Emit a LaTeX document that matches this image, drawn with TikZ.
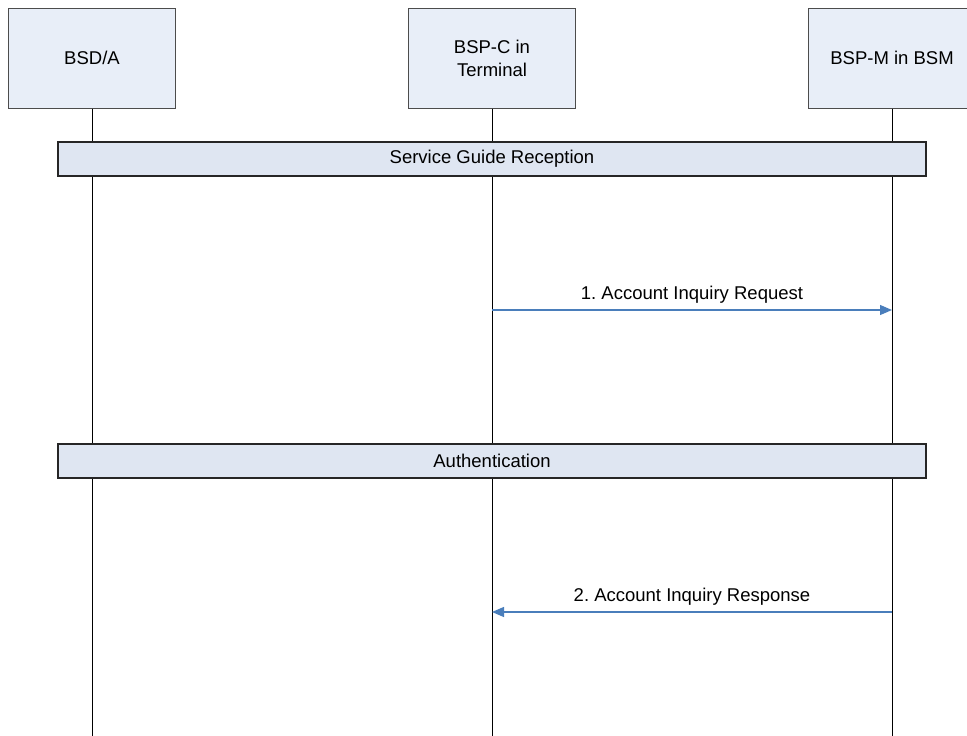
\documentclass[tikz,border=0pt]{standalone}
\usepackage{fontspec}
\setmainfont{Liberation Sans}
\usepackage{tikz}
\usetikzlibrary{arrows.meta}
\definecolor{boxfill}{HTML}{E8EEF8}
\definecolor{barfill}{HTML}{DFE6F2}
\definecolor{msgblue}{HTML}{4A7EBB}
\frenchspacing

\begin{document}
\begin{tikzpicture}[x=1pt,y=-1pt,
		every node/.style={font=\fontsize{18.5}{23}\selectfont},
		entity/.style={draw=black!70,line width=1pt,fill=boxfill,minimum width=167pt,minimum height=100pt,align=center,inner sep=0pt},
		phase/.style={draw=black!85,line width=1.6pt,fill=barfill,minimum width=868pt,minimum height=34pt,inner sep=0pt},
		msg/.style={msgblue,line width=1.2pt,-{Triangle[length=12pt,width=10pt]}}]
		\useasboundingbox (0,0) rectangle (967,736);
		% participants
		\node[entity] (bsd) at (92,58) {BSD/A};
		\node[entity] (bspc) at (492,58) {BSP-C in\\Terminal};
		\node[entity] (bspm) at (892,58) {BSP-M in BSM};
		% lifelines
		\foreach \p in {bsd,bspc,bspm}
			\draw[black,line width=1pt] (\p.south) -- (\p.south |- 0,736);
		% phases across all lifelines
		\node[phase] (sgr) at (492,159) {Service Guide Reception};
		\node[phase] (auth) at (492,461) {Authentication};
		% messages
		\coordinate (reqs) at (bspc.south |- 0,310);
		\coordinate (reqe) at (bspm.south |- 0,310);
		\coordinate (ress) at (bspm.south |- 0,612);
		\coordinate (rese) at (bspc.south |- 0,612);
		\draw[msg] (reqs) -- node[above=3pt,black] {1. Account Inquiry Request} (reqe);
		\draw[msg] (ress) -- node[above=3pt,black] {2. Account Inquiry Response} (rese);
	\end{tikzpicture}
\end{document}
